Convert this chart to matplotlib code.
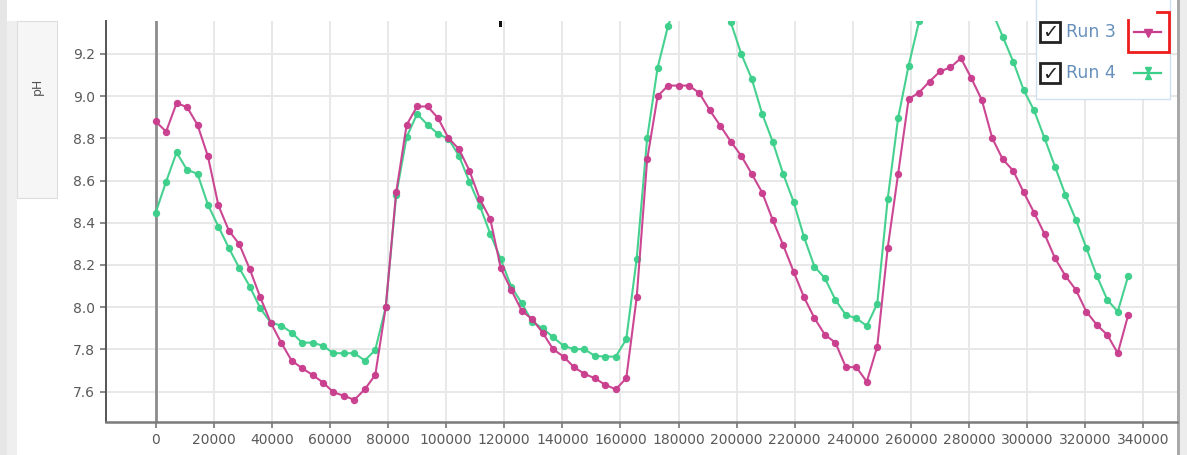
import numpy as np
import matplotlib.pyplot as plt
from matplotlib.patches import Rectangle
from matplotlib.lines import Line2D

W, H = 1187, 455

# sample time in seconds, one reading per hour
t = [i * 3600 for i in range(94)]

run3 = [8.880, 8.832, 8.967, 8.948, 8.864, 8.714, 8.482, 8.363, 8.298, 8.180,
        8.047, 7.927, 7.832, 7.747, 7.711, 7.679, 7.643, 7.597, 7.580, 7.561,
        7.611, 7.679, 8.000, 8.545, 8.864, 8.951, 8.951, 8.896, 8.801, 8.749,
        8.647, 8.512, 8.417, 8.185, 8.082, 7.984, 7.943, 7.880, 7.801, 7.766,
        7.716, 7.684, 7.663, 7.632, 7.611, 7.663, 8.047, 8.700, 9.000, 9.050,
        9.050, 9.050, 9.014, 8.932, 8.859, 8.785, 8.717, 8.632, 8.543, 8.414,
        8.295, 8.169, 8.047, 7.948, 7.869, 7.832, 7.716, 7.716, 7.647, 7.813,
        8.280, 8.632, 8.986, 9.017, 9.069, 9.117, 9.136, 9.180, 9.085, 8.982,
        8.801, 8.701, 8.647, 8.545, 8.448, 8.347, 8.232, 8.148, 8.082, 7.979,
        7.916, 7.869, 7.782, 7.963]

run4 = [8.448, 8.595, 8.733, 8.651, 8.632, 8.485, 8.382, 8.280, 8.185, 8.098,
        7.995, 7.927, 7.913, 7.880, 7.832, 7.832, 7.817, 7.782, 7.782, 7.782,
        7.747, 7.798, 8.000, 8.532, 8.806, 8.916, 8.864, 8.821, 8.798, 8.717,
        8.595, 8.480, 8.347, 8.227, 8.098, 8.019, 7.932, 7.900, 7.858, 7.817,
        7.801, 7.801, 7.769, 7.766, 7.766, 7.848, 8.230, 8.801, 9.135, 9.333,
        9.480, 9.560, 9.580, 9.550, 9.460, 9.349, 9.200, 9.082, 8.916, 8.785,
        8.632, 8.500, 8.332, 8.192, 8.137, 8.035, 7.963, 7.948, 7.911, 8.016,
        8.512, 8.896, 9.144, 9.354, 9.500, 9.600, 9.660, 9.660, 9.600, 9.500,
        9.400, 9.282, 9.164, 9.030, 8.932, 8.801, 8.666, 8.532, 8.414, 8.280,
        8.148, 8.035, 7.979, 8.148]

x_ticks = list(range(0, 340001, 20000))
x_labels = [str(v) for v in x_ticks]
y_ticks = [7.6, 7.8, 8.0, 8.2, 8.4, 8.6, 8.8, 9.0, 9.2]
y_labels = ["7.6", "7.8", "8.0", "8.2", "8.4", "8.6", "8.8", "9.0", "9.2"]

c3 = "#c93d8d"
c4 = "#3ccf8a"


def fx(px):
    return px / W


def fy(py):
    return 1 - py / H


fig = plt.figure(figsize=(W / 100, H / 100), dpi=100)
fig.patch.set_facecolor("white")

# page chrome around the chart
fig.add_artist(Rectangle((0, 0), fx(7), 1, transform=fig.transFigure,
                         facecolor="#e6e6e6", edgecolor="none", zorder=-2))
fig.add_artist(Rectangle((fx(7), 0), fx(10), fy(21), transform=fig.transFigure,
                         facecolor="#efefef", edgecolor="none", zorder=-2))
fig.add_artist(Rectangle((fx(17), fy(198)), fx(40), fy(21) - fy(198),
                         transform=fig.transFigure, facecolor="#f6f6f6",
                         edgecolor="#dddddd", lw=0.8, zorder=-1))
fig.text(fx(37), fy(86), "pH", rotation=90, ha="center", va="center",
         fontsize=9, color="#555555")
fig.add_artist(Rectangle((fx(1177), 0), fx(3), 1, transform=fig.transFigure,
                         facecolor="#a9a9a9", edgecolor="none", zorder=-1))
fig.add_artist(Rectangle((fx(1180), 0), fx(7), 1, transform=fig.transFigure,
                         facecolor="#ececec", edgecolor="none", zorder=-1))

ax = fig.add_axes([fx(106), fy(422), fx(1177 - 106), fy(21) - fy(422)])
ax.set_xlim(-17100, 351600)
ax.set_ylim(7.456, 9.356)

ax.set_xticks(x_ticks)
ax.set_xticklabels(x_labels)
ax.set_yticks(y_ticks)
ax.set_yticklabels(y_labels)
ax.grid(True, color="#e8e8e8", lw=1.4)
ax.set_axisbelow(True)
ax.axvline(0, color="#8c8c8c", lw=2.0, zorder=1)

for s in ["top", "right"]:
    ax.spines[s].set_visible(False)
ax.spines["left"].set_color("#555555")
ax.spines["left"].set_linewidth(1.4)
ax.spines["bottom"].set_color("#7a7a7a")
ax.spines["bottom"].set_linewidth(1.8)
ax.tick_params(axis="both", colors="#777777", labelcolor="#5a5a5a",
               labelsize=10, length=4, width=1.2, pad=4)

ax.plot(t, run3, color=c3, lw=1.5, marker="o", ms=4.3, alpha=0.95, zorder=3)
ax.plot(t, run4, color=c4, lw=1.5, marker="o", ms=4.3, alpha=0.95, zorder=2)

# small black mark below the header
fig.add_artist(Rectangle((fx(499), fy(27)), fx(3), fy(21) - fy(27),
                         transform=fig.transFigure, facecolor="#111111",
                         edgecolor="none", zorder=5))

# legend box
fig.add_artist(Rectangle((fx(1036), fy(99)), fx(1170 - 1036), fy(-2) - fy(99),
                         transform=fig.transFigure, facecolor="white",
                         edgecolor="#cfe0f2", lw=1.0, zorder=5))
for py, name, col, kind in [(32, "Run 3", c3, "v"), (73, "Run 4", c4, "x")]:
    fig.add_artist(Rectangle((fx(1040), fy(py + 10)), fx(20), fy(py - 10) - fy(py + 10),
                             transform=fig.transFigure, facecolor="white",
                             edgecolor="#222222", lw=2.0, zorder=6))
    fig.text(fx(1050), fy(py + 1), "\u2713", ha="center", va="center",
             fontsize=14, fontweight="bold", color="#222222", zorder=7)
    fig.text(fx(1066), fy(py), name, ha="left", va="center",
             fontsize=12.5, color="#6690bb", zorder=7)
    fig.add_artist(Line2D([fx(1134), fx(1161)], [fy(py), fy(py)],
                          transform=fig.transFigure, color=col, lw=1.6, zorder=7))
    if kind == "v":
        fig.add_artist(Line2D([fx(1148)], [fy(py + 1)], transform=fig.transFigure,
                              marker="v", ms=6, color=col, zorder=8))
    else:
        fig.add_artist(Line2D([fx(1148)], [fy(py - 3)], transform=fig.transFigure,
                              marker="v", ms=4.5, color=col, zorder=8))
        fig.add_artist(Line2D([fx(1148)], [fy(py + 3)], transform=fig.transFigure,
                              marker="^", ms=4.5, color=col, zorder=8))

# red highlight around the Run 3 symbol
fig.add_artist(Line2D([fx(1128), fx(1128), fx(1169), fx(1169), fx(1157)],
                      [fy(20), fy(52), fy(52), fy(12), fy(12)],
                      transform=fig.transFigure, color="#ee1c1c", lw=2.0,
                      solid_joinstyle="miter", zorder=9))

fig.savefig("out.png", dpi=100)
